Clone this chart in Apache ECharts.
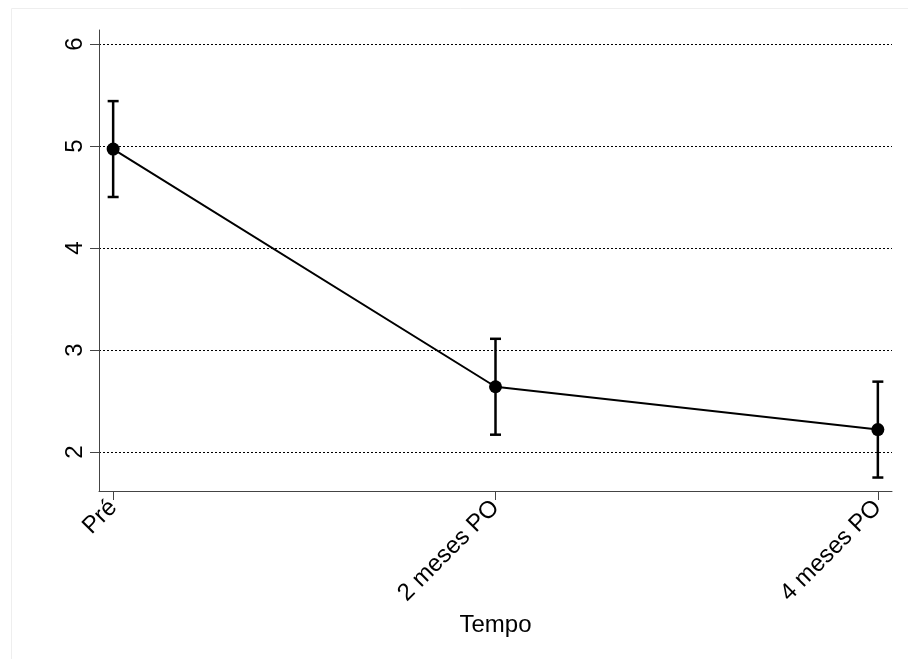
<!DOCTYPE html>
<html>
<head>
<meta charset="utf-8">
<script src="https://cdn.jsdelivr.net/npm/echarts@6/dist/echarts.min.js"></script>
<style>
html,body{margin:0;padding:0;background:#fff;}
#chart{width:908px;height:659px;}
</style>
</head>
<body>
<div id="chart"></div>
<script>
const categories = ['Pré', '2 meses PO', '4 meses PO'];
const xPositions = [0, 1, 2];
const means = [4.97, 2.64, 2.22];
const lower = [4.50, 2.17, 1.75];
const upper = [5.44, 3.11, 2.69];
const yTicks = [2, 3, 4, 5, 6];
const xAxisTitle = 'Tempo';

const chart = echarts.init(document.getElementById('chart'), null, {renderer: 'canvas'});
const font = 'Liberation Sans, Arial, sans-serif';
const axisColor = '#444';

const option = {
  backgroundColor: '#fff',
  animation: false,
  graphic: [{
    type: 'rect', left: 9, top: 6, silent: true,
    shape: {x: 0, y: 0, width: 920, height: 680},
    style: {fill: 'none', stroke: '#eeeeee', lineWidth: 1}
  }],
  grid: {left: 99, right: 16, top: 30, bottom: 168, containLabel: false},
  xAxis: {
    type: 'value', min: -0.037, max: 2.037,
    name: xAxisTitle, nameLocation: 'middle', nameGap: 122,
    nameTextStyle: {fontFamily: font, fontSize: 24, color: '#000'},
    axisLine: {show: true, onZero: false, lineStyle: {color: axisColor, width: 1}},
    axisTick: {show: true, length: 9, customValues: xPositions, lineStyle: {color: axisColor}},
    axisLabel: {
      customValues: xPositions, rotate: 45, margin: 13,
      fontFamily: font, fontSize: 24, color: '#000',
      formatter: v => categories[Math.round(v)]
    },
    splitLine: {show: false}
  },
  yAxis: {
    type: 'value', min: 1.618, max: 6.137,
    axisLine: {show: true, onZero: false, lineStyle: {color: axisColor, width: 1}},
    axisTick: {show: true, length: 9, customValues: yTicks, lineStyle: {color: axisColor}},
    axisLabel: {
      customValues: yTicks, rotate: 90, margin: 12,
      fontFamily: font, fontSize: 24, color: '#000',
      formatter: v => String(Math.round(v))
    },
    splitLine: {show: true, lineStyle: {color: '#000', type: [2, 2], width: 1}}
  },
  series: [
    {
      type: 'custom',
      data: xPositions.map((x, i) => [x, lower[i], upper[i]]),
      renderItem: function (params, api) {
        const x = api.value(0);
        const lo = api.coord([x, api.value(1)]);
        const hi = api.coord([x, api.value(2)]);
        const hw = 5.5;
        const style = {stroke: '#000', lineWidth: 2.5, fill: 'none'};
        return {
          type: 'group',
          children: [
            {type: 'line', shape: {x1: lo[0], y1: lo[1], x2: hi[0], y2: hi[1]}, style},
            {type: 'line', shape: {x1: hi[0] - hw, y1: hi[1], x2: hi[0] + hw, y2: hi[1]}, style},
            {type: 'line', shape: {x1: lo[0] - hw, y1: lo[1], x2: lo[0] + hw, y2: lo[1]}, style}
          ]
        };
      },
      z: 3
    },
    {
      type: 'line',
      data: xPositions.map((x, i) => [x, means[i]]),
      symbol: 'circle', symbolSize: 13,
      lineStyle: {color: '#000', width: 2},
      itemStyle: {color: '#000'},
      z: 4
    }
  ]
};
chart.setOption(option);
</script>
</body>
</html>
